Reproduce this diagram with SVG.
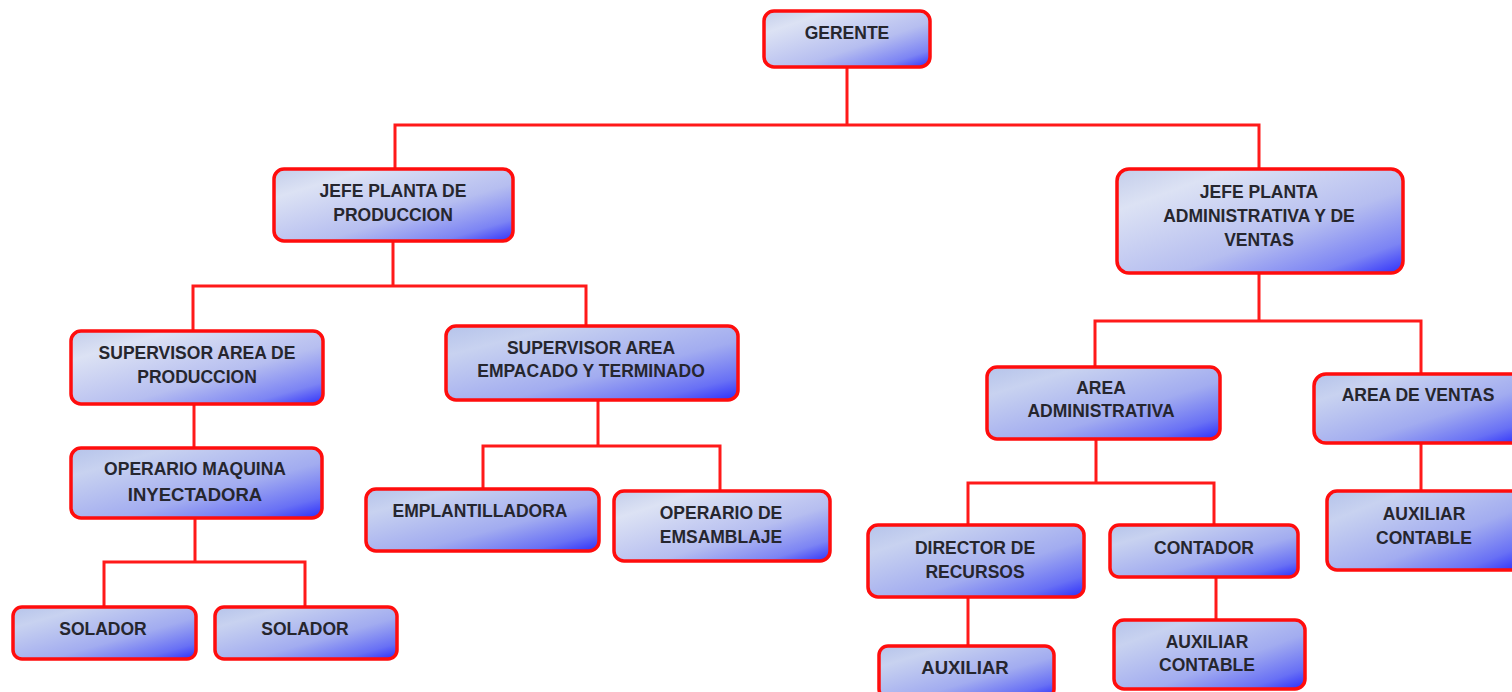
<svg xmlns="http://www.w3.org/2000/svg" width="1512" height="692" viewBox="0 0 1512 692">
<defs>
<linearGradient id="g" x1="0" y1="0" x2="1" y2="1">
<stop offset="0" stop-color="#c3cdea"/>
<stop offset="0.2" stop-color="#dce2f4"/>
<stop offset="0.6" stop-color="#b6bef0"/>
<stop offset="0.85" stop-color="#7c84f4"/>
<stop offset="1" stop-color="#2f30fa"/>
</linearGradient>
<linearGradient id="g2" x1="0" y1="0" x2="1" y2="1">
<stop offset="0" stop-color="#b5c3ea"/>
<stop offset="0.2" stop-color="#c8d2f0"/>
<stop offset="0.6" stop-color="#a2acf0"/>
<stop offset="0.85" stop-color="#6870f5"/>
<stop offset="1" stop-color="#2a2cfb"/>
</linearGradient>
</defs>
<style>
.b{fill:url(#g);stroke:#ff0d0d;stroke-width:3.5}
.d{fill:url(#g2);stroke:#ff0d0d;stroke-width:3.5}
.t{font-family:"Liberation Sans",Arial,sans-serif;font-weight:bold;font-size:17.5px;fill:#26262e;text-anchor:middle}
.c{fill:none;stroke:#ff1a1a;stroke-width:3}
</style>
<rect width="1512" height="692" fill="#ffffff"/>
<g id="connectors">
<path class="c" d="M847 67V125M395 168V125H1259V168"/>
<path class="c" d="M393 241V286M193 330V286H586V325"/>
<path class="c" d="M194 404V447"/>
<path class="c" d="M195 518V562M104 606V562H305V606"/>
<path class="c" d="M598 400V446M483 488V446H720V490"/>
<path class="c" d="M1259 273V321M1095 366V321H1421V373"/>
<path class="c" d="M1421 443V490"/>
<path class="c" d="M1096 439V483M968 524V483H1214V524"/>
<path class="c" d="M968 597V645"/>
<path class="c" d="M1216 577V619"/>
</g>
<g id="n-gerente"><rect class="b" x="764" y="11" width="166" height="56" rx="10"/><text class="t" x="847" y="39">GERENTE</text></g>
<g id="n-jefe-prod"><rect class="b" x="274" y="169" width="239" height="72" rx="10"/><text class="t" x="393" y="197">JEFE PLANTA DE</text><text class="t" x="393" y="221">PRODUCCION</text></g>
<g id="n-jefe-admin"><rect class="b" x="1117" y="169" width="286" height="104" rx="12"/><text class="t" x="1259" y="198">JEFE PLANTA</text><text class="t" x="1259" y="222">ADMINISTRATIVA Y DE</text><text class="t" x="1259" y="246">VENTAS</text></g>
<g id="n-sup-prod"><rect class="b" x="71" y="331" width="252" height="73" rx="10"/><text class="t" x="197" y="359">SUPERVISOR AREA DE</text><text class="t" x="197" y="383">PRODUCCION</text></g>
<g id="n-sup-emp"><rect class="d" x="446" y="326" width="292" height="74" rx="10"/><text class="t" x="591" y="354">SUPERVISOR AREA</text><text class="t" x="591" y="377">EMPACADO Y TERMINADO</text></g>
<g id="n-operario-maq"><rect class="d" x="71" y="448" width="251" height="70" rx="10"/><text class="t" x="195" y="475">OPERARIO MAQUINA</text><text class="t" x="195" y="501" style="font-size:18.5px">INYECTADORA</text></g>
<g id="n-solador1"><rect class="d" x="13" y="607" width="183" height="52" rx="9"/><text class="t" x="103" y="635">SOLADOR</text></g>
<g id="n-solador2"><rect class="d" x="215" y="607" width="182" height="52" rx="9"/><text class="t" x="305" y="635">SOLADOR</text></g>
<g id="n-emplantilladora"><rect class="d" x="366" y="489" width="233" height="62" rx="10"/><text class="t" x="480" y="517">EMPLANTILLADORA</text></g>
<g id="n-operario-ens"><rect class="b" x="614" y="491" width="216" height="70" rx="10"/><text class="t" x="721" y="519">OPERARIO DE</text><text class="t" x="721" y="543">EMSAMBLAJE</text></g>
<g id="n-area-admin"><rect class="d" x="987" y="367" width="233" height="72" rx="10"/><text class="t" x="1101" y="394">AREA</text><text class="t" x="1101" y="417">ADMINISTRATIVA</text></g>
<g id="n-area-ventas"><rect class="d" x="1314" y="374" width="210" height="69" rx="12"/><text class="t" x="1418" y="401">AREA DE VENTAS</text></g>
<g id="n-aux-cont-ventas"><rect class="d" x="1327" y="491" width="195" height="79" rx="10"/><text class="t" x="1424" y="520">AUXILIAR</text><text class="t" x="1424" y="544">CONTABLE</text></g>
<g id="n-director"><rect class="d" x="868" y="525" width="216" height="72" rx="10"/><text class="t" x="975" y="554">DIRECTOR DE</text><text class="t" x="975" y="578">RECURSOS</text></g>
<g id="n-contador"><rect class="d" x="1110" y="525" width="188" height="52" rx="9"/><text class="t" x="1204" y="554">CONTADOR</text></g>
<g id="n-auxiliar"><rect class="d" x="879" y="646" width="175" height="52" rx="9"/><text class="t" x="965" y="674" style="font-size:18.5px">AUXILIAR</text></g>
<g id="n-aux-cont"><rect class="d" x="1114" y="620" width="191" height="69" rx="10"/><text class="t" x="1207" y="648">AUXILIAR</text><text class="t" x="1207" y="671">CONTABLE</text></g>
</svg>
